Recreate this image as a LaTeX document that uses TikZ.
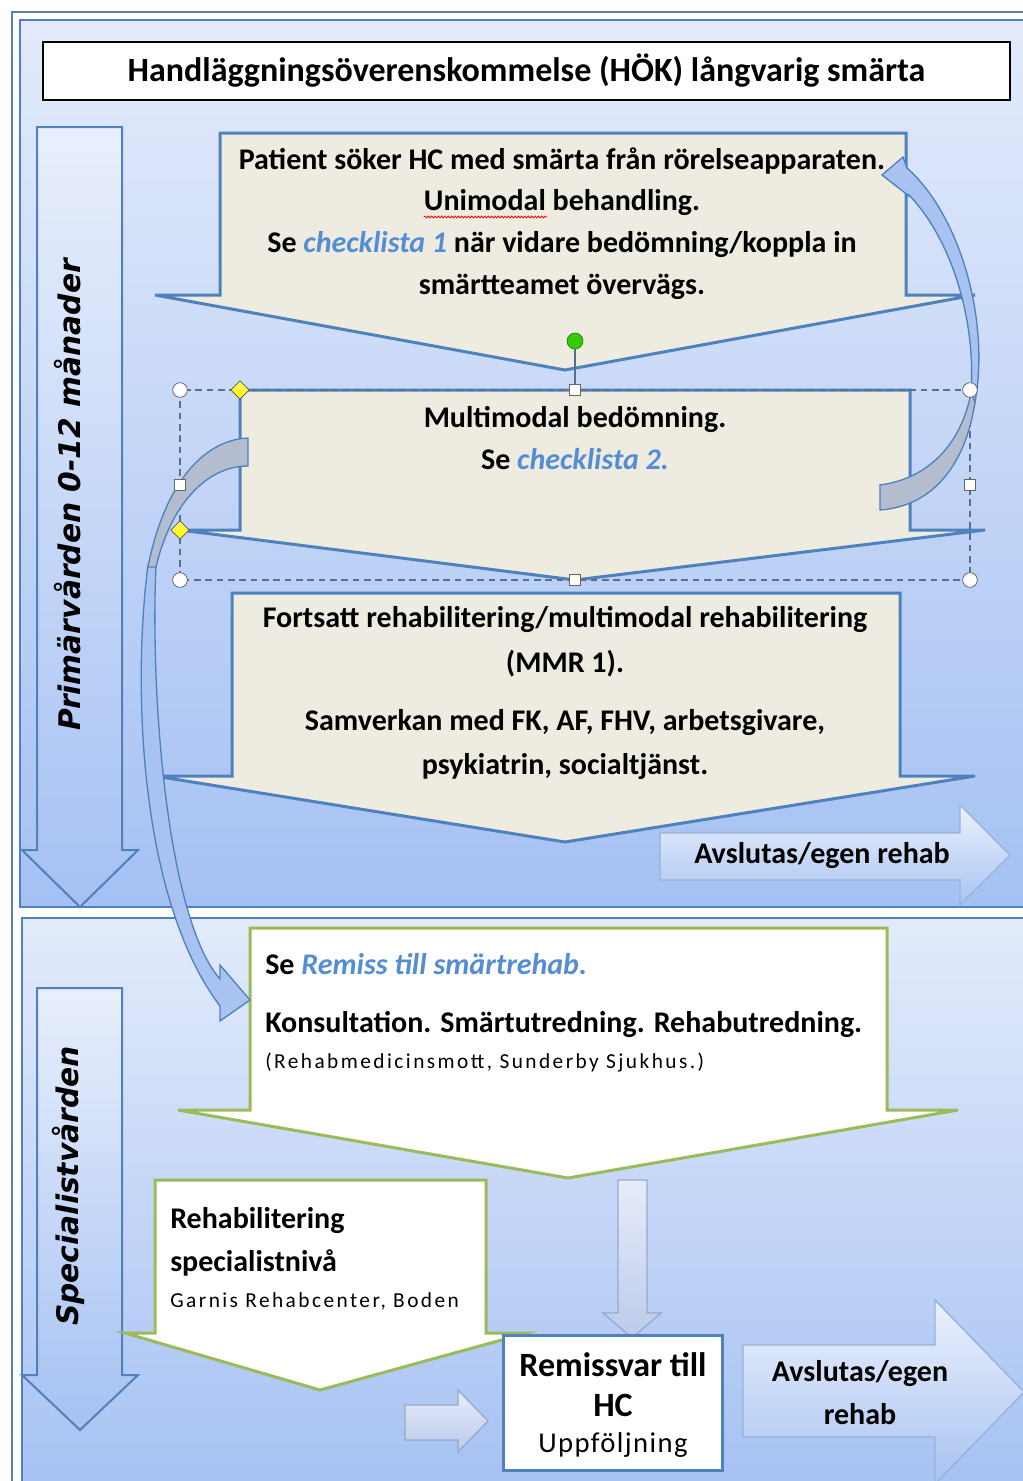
\documentclass[tikz,border=0pt]{standalone}
\usepackage{fontspec}
\setmainfont{Carlito}
\newfontfamily\vfont{DejaVu Sans}
\newfontfamily\spfont[LetterSpace=11.5]{Carlito}
\newfontfamily\spfontb[LetterSpace=5]{Carlito}
\usetikzlibrary{decorations.pathmorphing,shapes.geometric}
\definecolor{bordblue}{HTML}{4F81BD}
\definecolor{beige}{HTML}{EEECE1}
\definecolor{greenb}{HTML}{9BBB59}
\definecolor{linkblue}{HTML}{548DD4}
\definecolor{paneltop}{HTML}{E3EBFB}
\definecolor{panelbot}{HTML}{A5C1F3}
\definecolor{curvgray}{HTML}{B4BDD0}
\definecolor{curvblue}{HTML}{A8C3F2}
\definecolor{handle}{HTML}{5B6F8C}
\definecolor{lighttop}{HTML}{E6ECF9}
\definecolor{lightbot}{HTML}{BCCBEB}
\definecolor{lightbord}{HTML}{98A9CC}
\tikzset{
  panel/.style={top color=paneltop, bottom color=panelbot, draw=bordblue, line width=1.5pt},
  vlane/.style={top color=paneltop!80!white, bottom color=panelbot, draw=bordblue, line width=1.5pt},
  beigearrow/.style={fill=beige, draw=bordblue, line width=2.25pt},
  greenarrow/.style={fill=white, draw=greenb, line width=2.25pt},
  lightarrow/.style={top color=lighttop, bottom color=lightbot, draw=lightbord, line width=1pt},
  exitarrow/.style={top color=paneltop!70!white, bottom color=curvblue, draw=bordblue!60, line width=1pt},
  bt/.style={font=\bfseries\fontsize{22.5}{26}\selectfont, inner sep=0pt},
  smalltxt/.style={font=\spfont\fontsize{16}{19}\selectfont, inner sep=0pt},
  lanetxt/.style={font=\vfont\bfseries\itshape\fontsize{22.3}{26}\selectfont, rotate=90, inner sep=0pt},
  circh/.style={circle, draw=gray!80!black, fill=white, minimum size=11pt, inner sep=0pt, line width=0.6pt},
  sqh/.style={rectangle, draw=gray!80!black, fill=white, minimum size=8.5pt, inner sep=0pt, line width=0.6pt},
  diah/.style={diamond, draw=gray!70!black, top color=yellow!60!white, bottom color=yellow!90!orange, minimum size=14pt, inner sep=0pt, line width=0.5pt},
  selbox/.style={draw=handle, dashed, dash pattern=on 5pt off 3.5pt, line width=0.9pt}
}
\begin{document}
\begin{tikzpicture}[x=0.75pt,y=-0.75pt]
\useasboundingbox (0,0) rectangle (1022,1481);
\fill[white] (0,0) rectangle (1022,1481);
% outer frame
\draw[bordblue!80!gray, line width=1pt] (12,1490) -- (12,12) -- (1030,12);
% panels
\shade[panel] (20,20) rectangle (1035,907);
\shade[panel] (22,918) rectangle (1035,1495);
% title
\node[draw=black, line width=1.2pt, fill=white, minimum width=967*0.75pt, minimum height=58*0.75pt, inner sep=0pt,
      font=\bfseries\fontsize{25.5}{29}\selectfont] (title) at (526.5,71) {Handläggningsöverenskommelse (HÖK) långvarig smärta};
% left lanes
\shade[vlane] (37,127) -- (122,127) -- (122,850) -- (138,850) -- (80,907) -- (22,850) -- (37,850) -- cycle;
\node[lanetxt] (lane1) at (68,495) {Primärvården 0-12 månader};
\shade[vlane] (37,988) -- (122,988) -- (122,1375) -- (138,1375) -- (80,1430) -- (22,1375) -- (37,1375) -- cycle;
\node[lanetxt] (lane2) at (68,1186) {Specialistvården};

% arrow 1
\filldraw[beigearrow] (220,133) -- (906,133) -- (906,295) -- (975,295) -- (565,370) -- (155,295) -- (220,295) -- cycle;
\node[bt] (a1l1) at (562,161) {Patient söker HC med smärta från rörelseapparaten.};
\node[bt] (a1l2) at (562,203) {Unimodal behandling.};
\draw[red, line width=0.6pt, decorate, decoration={snake, amplitude=0.7pt, segment length=2.5pt}] (424,217) -- (547,217);
\node[bt] (a1l3) at (562,245) {Se {\color{linkblue}\itshape checklista 1} när vidare bedömning/koppla in};
\begin{scope}
\clip (150,130) rectangle (980,298);
\node[bt] (a1l4) at (562,287) {smärtteamet övervägs.};
\end{scope}

% arrow 2
\filldraw[beigearrow] (240,390) -- (910,390) -- (910,530) -- (985,530) -- (575,580) -- (180,530) -- (240,530) -- cycle;
\node[bt] (a2l1) at (575,419) {Multimodal bedömning.};
\node[bt] (a2l2) at (575,459) {Se {\color{linkblue}\itshape checklista 2.}};

% arrow 3
\filldraw[beigearrow] (232,593) -- (900,593) -- (900,776) -- (975,776) -- (565,842) -- (155,776) -- (232,776) -- cycle;
\node[bt] (a3l1) at (565,619) {Fortsatt rehabilitering/multimodal rehabilitering};
\node[bt] (a3l2) at (565,664) {(MMR 1).};
\node[bt] (a3l3) at (565,723) {Samverkan med FK, AF, FHV, arbetsgivare,};
\node[bt] (a3l4) at (565,766) {psykiatrin, socialtjänst.};

% exit arrow top
\shade[exitarrow] (660,833) -- (960,833) -- (960,805) -- (1010,855) -- (960,905) -- (960,880) -- (660,880) -- cycle;
\node[bt] (exit1) at (822,856) {Avslutas/egen rehab};

% remiss arrow
\filldraw[greenarrow] (250,928) -- (887,928) -- (887,1110) -- (958,1110) -- (568,1178) -- (178,1110) -- (250,1110) -- cycle;
\node[bt, anchor=west] (r1) at (265,964) {Se {\color{linkblue}\itshape Remiss till smärtrehab.}};
\node[bt, anchor=west] (r2) at (265,1024) {Konsultation. Smärtutredning. Rehabutredning.};
\node[smalltxt, anchor=west] (r3) at (265,1063) {(Rehabmedicinsmott, Sunderby Sjukhus.)};

% rehab arrow
\filldraw[greenarrow] (155,1180) -- (486,1180) -- (486,1333) -- (527,1333) -- (320,1390) -- (125,1333) -- (155,1333) -- cycle;
\node[bt, anchor=west] (s1) at (170,1221) {Rehabilitering};
\node[bt, anchor=west] (s2) at (170,1263) {specialistnivå};
\node[smalltxt, anchor=west] (s3) at (170,1301) {Garnis Rehabcenter, Boden};

% small arrows
\shade[lightarrow] (618,1180) -- (647,1180) -- (647,1313) -- (661,1313) -- (632,1338) -- (603,1313) -- (618,1313) -- cycle;
\shade[lightarrow] (405,1405) -- (458,1405) -- (458,1390) -- (488,1421) -- (458,1452) -- (458,1440) -- (405,1440) -- cycle;

% remissvar box
\node[draw=bordblue, line width=2.25pt, fill=white, minimum width=219*0.75pt, minimum height=135*0.75pt, inner sep=0pt] (svar) at (612.5,1402.5) {};
\node[font=\bfseries\fontsize{25.5}{29}\selectfont, inner sep=0pt] (sv1) at (613,1365) {Remissvar till};
\node[font=\bfseries\fontsize{25.5}{29}\selectfont, inner sep=0pt] (sv2) at (613,1405) {HC};
\node[font=\spfontb\fontsize{21.5}{25}\selectfont, inner sep=0pt] (sv3) at (613,1445) {Uppföljning};

% big exit arrow
\shade[exitarrow] (743,1345) -- (935,1345) -- (935,1300) -- (1024,1392) -- (935,1484) -- (935,1437) -- (743,1437) -- cycle;
\node[font=\bfseries\fontsize{22.5}{26}\selectfont, inner sep=0pt] (e1) at (860,1373) {Avslutas/egen};
\node[font=\bfseries\fontsize{22.5}{26}\selectfont, inner sep=0pt] (e2) at (860,1414) {rehab};

% selection box
\draw[selbox] (180,390) rectangle (970,580);

% right curved arrow
\filldraw[fill=curvblue, draw=bordblue, line width=1pt]
  (882,175) -- (903,157) -- (907,168) .. controls (960,215) and (990,320) .. (975,402)
  -- (971,393) .. controls (976,320) and (952,240) .. (909,195) -- (909,196) -- cycle;
\filldraw[fill=curvgray, draw=bordblue, line width=1pt]
  (880,485) .. controls (932,478) and (962,440) .. (971,393)
  -- (975,402) .. controls (966,462) and (935,506) .. (880,510) -- cycle;

% left curved arrow
\filldraw[fill=curvblue, draw=bordblue, line width=1pt]
  (148,565) .. controls (132,690) and (140,900) .. (220,1006) -- (220,1021) -- (250,1000) -- (220,965) -- (220,979)
  .. controls (168,920) and (150,700) .. (156,565) -- cycle;
\filldraw[fill=curvgray, draw=bordblue, line width=1pt]
  (248,438) .. controls (200,440) and (163,490) .. (148,567)
  -- (156,567) .. controls (170,507) and (205,466) .. (248,466) -- cycle;

% handles
\draw[handle, line width=0.9pt] (575,349) -- (575,386);
\node[circle, draw=green!45!black, fill=green!65!lime!80!black, minimum size=12pt, inner sep=0pt] (rot) at (575,341) {};
\node[circh] (h1) at (180,390) {};
\node[circh] (h2) at (970,390) {};
\node[circh] (h3) at (180,580) {};
\node[circh] (h4) at (970,580) {};
\node[sqh] (q1) at (575,390) {};
\node[sqh] (q2) at (180,485) {};
\node[sqh] (q3) at (970,485) {};
\node[sqh] (q4) at (575,580) {};
\node[diah] (d1) at (240,390) {};
\node[diah] (d2) at (180,530) {};
\end{tikzpicture}
\end{document}
